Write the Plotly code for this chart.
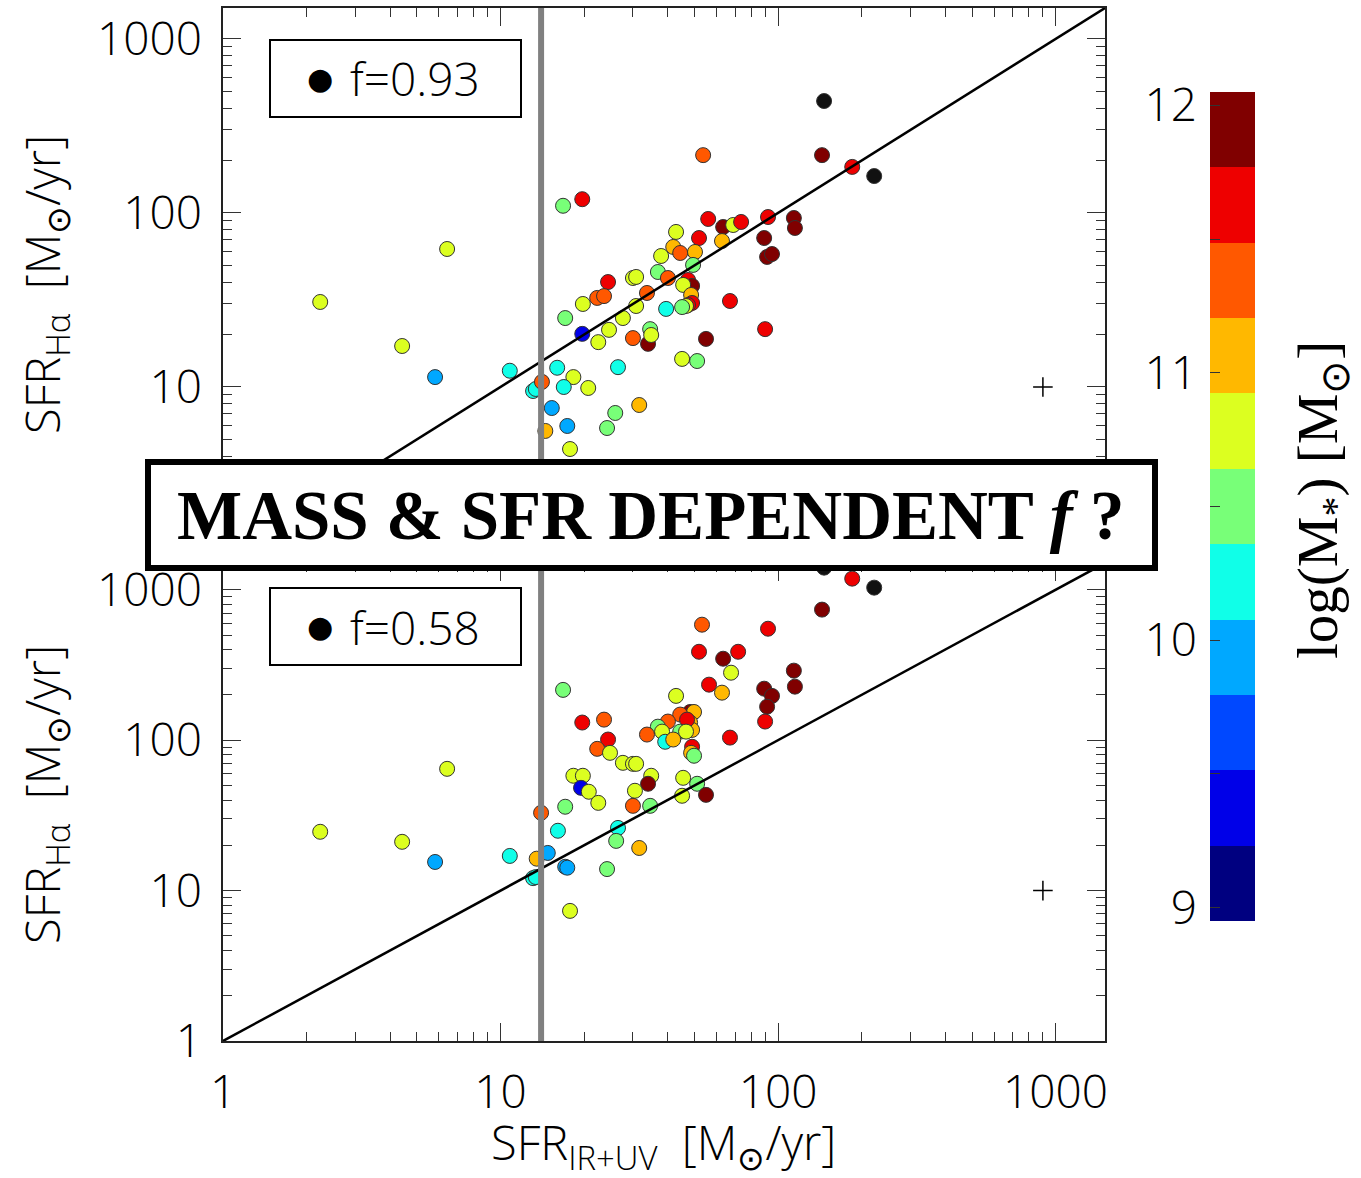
import plotly.graph_objects as go

# ---------------- data ----------------
top_x = [2.24, 6.42, 4.42, 5.81, 10.8, 13.1, 13.4, 14.1, 15.3, 14.5, 16.8, 19.7, 56.0, 63.4, 68.9, 73.6,
         42.9, 51.9, 62.8, 41.9, 44.4, 50.2, 37.9, 36.9, 40.1, 49.4, 47.4, 49.0, 45.5, 48.6, 49.0, 47.4,
         46.6, 45.1, 67.1, 39.5, 30.0, 30.8, 24.4, 22.3, 23.6, 19.8, 33.7, 30.8, 27.6, 17.1, 19.7, 24.6,
         22.5, 30.0, 34.0, 34.6, 34.9, 55.0, 45.1, 51.1, 16.0, 18.3, 16.9, 20.7, 26.5, 31.6, 25.9, 17.4,
         24.2, 17.8, 146.5, 53.7, 144, 185, 222, 92.0, 114, 115, 89.1, 91.3, 95.1, 89.8]
top_y = [30.8, 62.1, 17.2, 11.4, 12.4, 9.48, 9.74, 10.7, 7.57, 5.59, 110, 120, 92.4, 83.1, 85.3, 88.8,
         77.8, 71.8, 69.0, 63.8, 58.9, 59.7, 56.6, 45.8, 42.3, 50.3, 41.2, 38.1, 38.6, 33.8, 30.4, 29.6,
         29.2, 28.8, 31.2, 28.1, 42.3, 42.9, 40.1, 32.5, 33.3, 30.0, 34.7, 29.2, 24.9, 24.9, 20.2, 21.3,
         18.1, 19.1, 17.7, 21.5, 19.9, 18.9, 14.5, 14.1, 12.9, 11.4, 10.0, 9.87, 13.0, 7.88, 7.09, 5.97,
         5.81, 4.40, 440, 215, 215, 184, 163, 94.8, 93.6, 82.0, 71.8, 55.9, 58.1, 21.5]
top_m = [10.8, 10.8, 10.8, 10.0, 10.2, 10.2, 10.2, 11.3, 10.0, 11.0, 10.5, 11.6, 11.6, 11.9, 10.8, 11.6,
         10.8, 11.6, 11.0, 11.0, 11.3, 11.0, 10.8, 10.5, 11.3, 10.5, 11.6, 11.9, 10.8, 11.0, 11.6, 11.6,
         10.8, 10.5, 11.6, 10.2, 10.8, 10.8, 11.6, 11.3, 11.3, 10.8, 11.3, 10.8, 10.8, 10.5, 9.4, 10.8,
         10.8, 11.3, 11.9, 10.5, 10.8, 11.9, 10.8, 10.5, 10.2, 10.8, 10.2, 10.8, 10.2, 11.0, 10.5, 10.0,
         10.5, 10.8, 12.2, 11.3, 11.9, 11.6, 12.2, 11.6, 11.9, 11.9, 11.9, 11.9, 11.9, 11.6]

bot_x = [6.42, 14.0, 2.24, 4.42, 5.81, 10.8, 13.5, 14.8, 13.1, 13.4, 53.2, 51.9, 63.4, 71.8, 67.7, 16.8,
         56.4, 62.8, 42.9, 19.7, 23.6, 48.2, 49.8, 44.4, 40.1, 48.2, 49.0, 47.0, 36.9, 38.2, 44.4, 46.6,
         39.2, 41.9, 33.7, 67.1, 49.0, 48.6, 49.8, 24.4, 22.3, 24.8, 27.6, 30.0, 30.8, 18.3, 19.8, 19.5,
         20.8, 22.5, 34.9, 34.0, 30.5, 30.0, 34.6, 45.5, 51.1, 45.1, 55.0, 17.1, 16.1, 26.5, 26.1, 31.6,
         17.1, 17.4, 24.2, 17.8, 185, 222, 144, 92.0, 114, 115, 89.1, 95.1, 91.3, 89.8, 146.5]
bot_y = [64.5, 32.9, 24.6, 21.1, 15.5, 17.0, 16.3, 17.8, 12.1, 12.3, 586, 387, 348, 387, 281, 216,
         234, 207, 197, 131, 137, 154, 154, 148, 133, 131, 117, 137, 123, 114, 114, 114,
         97.6, 101, 109, 104, 90.4, 82.4, 78.8, 101, 87.6, 82.4, 70.7, 69.6, 69.6, 58.0, 58.0, 48.2,
         45.4, 38.3, 58.0, 51.3, 46.1, 36.6, 36.6, 56.2, 51.3, 42.7, 43.3, 36.1, 25.0, 26.1, 21.4, 19.2,
         14.4, 14.2, 13.9, 7.33, 1186, 1033, 738, 551, 290, 227, 220, 197, 167, 133, 1403]
bot_m = [10.8, 11.3, 10.8, 10.8, 10.0, 10.2, 11.0, 10.0, 10.2, 10.2, 11.3, 11.6, 11.9, 11.6, 10.8, 10.5,
         11.6, 11.0, 10.8, 11.6, 11.3, 11.9, 11.0, 11.3, 11.3, 11.0, 11.0, 11.6, 10.5, 10.8, 10.5, 10.8,
         10.2, 11.0, 11.3, 11.6, 11.6, 11.0, 10.5, 11.6, 11.3, 10.8, 10.8, 10.8, 10.8, 10.8, 10.8, 9.4,
         10.8, 10.8, 10.8, 11.9, 10.8, 11.3, 10.5, 10.8, 10.5, 10.8, 11.9, 10.5, 10.2, 10.2, 10.5, 11.0,
         10.0, 10.0, 10.5, 10.8, 11.6, 12.2, 11.9, 11.6, 11.9, 11.9, 11.9, 11.9, 11.9, 11.6, 12.2]

f_labels = ["f=0.93", "f=0.58"]
x_cut = 14.0
err_x = [900]
err_y = [10]
mass_min, mass_max = 8.95, 12.05
jet11 = ["#000080", "#0000e8", "#0048ff", "#00a8ff", "#10ffe8", "#78ff78",
         "#dcff20", "#ffb800", "#ff5800", "#ee0000", "#800000"]
cbar_ticks = [9, 9.5, 10, 10.5, 11, 11.5, 12]
cbar_text = ["9", "", "10", "", "11", "", "12"]
axis_ticks = [1, 10, 100, 1000]
axis_text = ["1", "10", "100", "1000"]
top_axis_text = ["", "10", "100", "1000"]
minor_ticks = [m * 10 ** d for d in range(4) for m in range(2, 10)]

nb = len(jet11)
bw = (mass_max - mass_min) / nb


def mcolor(m):
    if m > mass_max:
        return "#111111"
    i = int((m - mass_min) // bw)
    return jet11[max(0, min(nb - 1, i))]


# ---------------- figure ----------------
W, H = 1361, 1178
ML, MR, MT, MB = 223, 100, 8, 137
PW, PH = W - ML - MR, H - MT - MB


def px(xp):
    return (xp - ML) / PW


def py(yp):
    return (H - MB - yp) / PH


fig = go.Figure()
LOGMAX = 3.178
for xs, ys, ms, xa, ya in [(top_x, top_y, top_m, "x2", "y2"), (bot_x, bot_y, bot_m, "x", "y")]:
    fig.add_trace(go.Scatter(x=xs, y=ys, mode="markers", xaxis=xa, yaxis=ya,
                             marker=dict(size=15, color=[mcolor(m) for m in ms],
                                         line=dict(width=1, color="#333333")),
                             showlegend=False, hoverinfo="skip"))
    fig.add_trace(go.Scatter(x=[1, 10 ** LOGMAX], y=[1, 10 ** LOGMAX], mode="lines", xaxis=xa, yaxis=ya,
                             line=dict(color="black", width=2.5), showlegend=False))
    fig.add_trace(go.Scatter(x=[x_cut, x_cut], y=[0.5, 3000], mode="lines", xaxis=xa, yaxis=ya,
                             line=dict(color="#808080", width=6), showlegend=False))
    fig.add_trace(go.Scatter(x=err_x, y=err_y, mode="markers", xaxis=xa, yaxis=ya,
                             marker=dict(symbol="cross-thin", size=14, line=dict(width=1.5, color="black")),
                             showlegend=False))

# colour bar as heatmap
centers = [mass_min + (i + 0.5) * bw for i in range(nb)]
fig.add_trace(go.Heatmap(x=[0], y=centers, z=[[i] for i in range(nb)],
                         colorscale=[[i / (nb - 1), c] for i, c in enumerate(jet11)],
                         zmin=0, zmax=nb - 1, showscale=False, xaxis="x3", yaxis="y3", hoverinfo="skip"))

tickfont = dict(family="Open Sans", size=46, color="black", weight=300)
titlefont = dict(family="Open Sans", size=47, color="black", weight=300)
xdom = [0, 882 / PW]


def common(text):
    return dict(type="log", range=[0, LOGMAX], showgrid=False, zeroline=False, automargin=False,
                showline=True, linecolor="#222", linewidth=1.5, mirror="allticks",
                ticks="inside", ticklen=18, tickwidth=1, tickcolor="#333",
                tickmode="array", tickvals=axis_ticks, ticktext=text, tickfont=tickfont,
                minor=dict(tickmode="array", tickvals=minor_ticks, ticks="inside", ticklen=9,
                           tickwidth=1, tickcolor="#333", showgrid=False))


fig.update_layout(
    width=W, height=H, margin=dict(l=ML, r=MR, t=MT, b=MB, autoexpand=False),
    paper_bgcolor="white", plot_bgcolor="white",
    xaxis=dict(domain=xdom, anchor="y", ticklabelstandoff=10, **common(axis_text)),
    xaxis2=dict(domain=xdom, anchor="y2", matches="x", showticklabels=False, **common(axis_text)),
    yaxis=dict(domain=[0, (1041 - 563) / PH], anchor="x", ticklabelstandoff=10, **common(axis_text)),
    yaxis2=dict(domain=[(1041 - 561) / PH, 1], anchor="x2", ticklabelstandoff=10, **common(top_axis_text)),
    xaxis3=dict(domain=[px(1210), px(1255)], anchor="y3", range=[-0.5, 0.5], visible=False,
                automargin=False),
    yaxis3=dict(domain=[py(921), py(92)], anchor="x3", range=[mass_min, mass_max], side="left",
                tickmode="array", tickvals=cbar_ticks, ticktext=cbar_text, ticks="inside",
                ticklen=10, tickcolor="#333", showgrid=False, zeroline=False, showline=False,
                tickfont=tickfont, ticklabelstandoff=12, automargin=False),
)

# axis titles
fig.add_annotation(text="SFR<sub>IR+UV</sub>  [M<sub>⊙</sub>/yr]", xref="paper", yref="paper",
                   x=px(663), y=py(1145), showarrow=False, font=titlefont, xanchor="center", yanchor="middle")
for yc in (285, 795):
    fig.add_annotation(text="SFR<sub>Hα</sub>  [M<sub>⊙</sub>/yr]", xref="paper", yref="paper",
                       x=px(45), y=py(yc), showarrow=False, font=titlefont, textangle=-90,
                       xanchor="center", yanchor="middle")
fig.add_annotation(text="log(M<sub>*</sub>) [M<sub>⊙</sub>]", xref="paper", yref="paper",
                   x=px(1322), y=py(500), showarrow=False, textangle=-90,
                   font=dict(family="Liberation Serif", size=57, color="black"),
                   xanchor="center", yanchor="middle")

# legend boxes
for (y0, y1), lab in zip([(40, 117), (588, 665)], f_labels):
    fig.add_shape(type="rect", xref="paper", yref="paper", x0=px(270), x1=px(521), y0=py(y1), y1=py(y0),
                  line=dict(color="black", width=2), fillcolor="white", layer="above")
    fig.add_annotation(text="●", xref="paper", yref="paper", x=px(320), y=py((y0 + y1) / 2),
                       xanchor="center", yanchor="middle", showarrow=False,
                       font=dict(family="DejaVu Sans", size=30, color="black"))
    fig.add_annotation(text=lab, xref="paper", yref="paper", x=px(348), y=py((y0 + y1) / 2),
                       xanchor="left", yanchor="middle", showarrow=False, font=tickfont)

# big box
fig.add_shape(type="rect", xref="paper", yref="paper", x0=px(148), x1=px(1155), y0=py(568), y1=py(462),
              line=dict(color="black", width=6), fillcolor="white", layer="above")
fig.add_annotation(text="<b>MASS &amp; SFR DEPENDENT <i>f</i> ?</b>", xref="paper", yref="paper",
                   x=px(651), y=py(516), xanchor="center", yanchor="middle", showarrow=False,
                   font=dict(family="Liberation Serif", size=69, color="black"))

fig.write_html("out.html")
